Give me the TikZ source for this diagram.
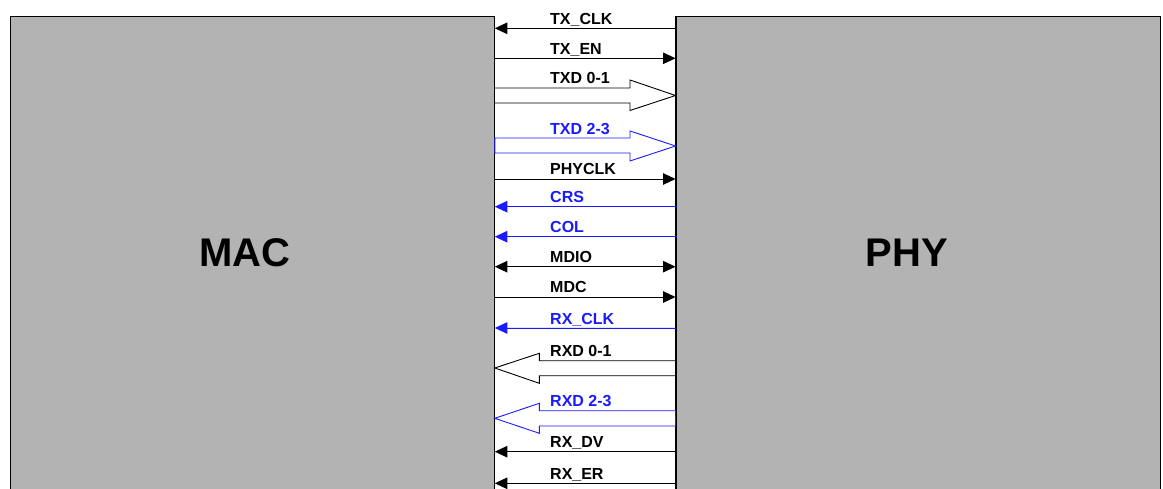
\documentclass[tikz,border=0pt]{standalone}
\usepackage{fontspec}
\setmainfont{Liberation Sans}
\usetikzlibrary{arrows.meta}
\definecolor{boxgray}{HTML}{B3B3B3}
\definecolor{sigblue}{HTML}{1A1AFF}
\begin{document}
\begin{tikzpicture}[x=1pt,y=-1pt,
  box/.style={draw=black, line width=1.3pt, fill=boxgray, minimum width=484pt, minimum height=520pt, anchor=north west, inner sep=0pt},
  edge/.style={draw=black, line width=1.3pt},
  big/.style={font=\fontsize{40}{40}\selectfont\bfseries, inner sep=0pt},
  lbl/.style={font=\fontsize{16}{16}\selectfont\bfseries, anchor=base west, inner sep=0pt},
  sig/.style={line width=0.9pt, arrows={-Triangle[length=12.5pt,width=11.5pt]}},
  sigl/.style={line width=0.9pt, arrows={Triangle[length=12.5pt,width=11.5pt]-}},
  sigb/.style={line width=0.9pt, arrows={Triangle[length=12.5pt,width=11.5pt]-Triangle[length=12.5pt,width=11.5pt]}},
  fat/.style={line width=0.9pt, fill=white, line join=miter}
]
\useasboundingbox (0,0) rectangle (1163,489);
\node[box] (mac) at (9.5,16) {};
\node[box] (phy) at (675.5,16) {};
\node[big] (maclbl) at (245,253) {MAC};
\node[big] (phylbl) at (907,253) {PHY};

% TXD 0-1
\draw[fat] (mac.east |- 0,88) -- (630,88) -- (630,80) -- (phy.west |- 0,95.5) -- (630,110.5) -- (630,103) -- (mac.east |- 0,103);
\node[lbl] (l3) at (550,83.5) {TXD 0-1};
% RXD 0-1
\draw[fat] (phy.west |- 0,360.7) -- (539.3,360.7) -- (539.3,353.3) -- (mac.east |- 0,368) -- (539.3,383.3) -- (539.3,375.7) -- (phy.west |- 0,375.7);
\node[lbl] (l11) at (550,356) {RXD 0-1};
% inner box edges drawn again over the wide arrows
\draw[edge] (mac.north east) -- (mac.south east);
\draw[edge] (phy.north west) -- (phy.south west);

% TX_CLK
\draw[sigl] (mac.east |- 0,28.3) -- (phy.west |- 0,28.3);
\node[lbl] (l1) at (550,24.3) {TX\_CLK};
% TX_EN
\draw[sig] (mac.east |- 0,58.3) -- (phy.west |- 0,58.3);
\node[lbl] (l2) at (550,54.3) {TX\_EN};
% TXD 2-3
\draw[fat, draw=sigblue] (mac.east |- 0,138) -- (630,138) -- (630,131) -- (phy.west |- 0,146) -- (630,161) -- (630,153) -- (mac.east |- 0,153) -- cycle;
\node[lbl, text=sigblue] (l4) at (550,134.5) {TXD 2-3};
% PHYCLK
\draw[sig] (mac.east |- 0,179) -- (phy.west |- 0,179);
\node[lbl] (l5) at (550,175) {PHYCLK};
% CRS
\draw[sigl, draw=sigblue, fill=sigblue] (mac.east |- 0,206.7) -- (677,206.7);
\node[lbl, text=sigblue] (l6) at (550,202.7) {CRS};
% COL
\draw[sigl, draw=sigblue, fill=sigblue] (mac.east |- 0,236.7) -- (677,236.7);
\node[lbl, text=sigblue] (l7) at (550,232.7) {COL};
% MDIO
\draw[sigb] (mac.east |- 0,266.7) -- (phy.west |- 0,266.7);
\node[lbl] (l8) at (550,262.7) {MDIO};
% MDC
\draw[sig] (mac.east |- 0,297) -- (phy.west |- 0,297);
\node[lbl] (l9) at (550,293) {MDC};
% RX_CLK
\draw[sigl, draw=sigblue, fill=sigblue] (mac.east |- 0,328) -- (phy.west |- 0,328);
\node[lbl, text=sigblue] (l10) at (550,324) {RX\_CLK};
% RXD 2-3
\draw[fat, draw=sigblue] (phy.west |- 0,410.7) -- (539.3,410.7) -- (539.3,403.3) -- (mac.east |- 0,418.3) -- (539.3,433.3) -- (539.3,426) -- (phy.west |- 0,426) -- cycle;
\node[lbl, text=sigblue] (l12) at (550,406.3) {RXD 2-3};
% RX_DV
\draw[sigl] (mac.east |- 0,451.7) -- (phy.west |- 0,451.7);
\node[lbl] (l13) at (550,447.7) {RX\_DV};
% RX_ER
\draw[sigl] (mac.east |- 0,483.3) -- (phy.west |- 0,483.3);
\node[lbl] (l14) at (550,479.3) {RX\_ER};
\end{tikzpicture}
\end{document}
